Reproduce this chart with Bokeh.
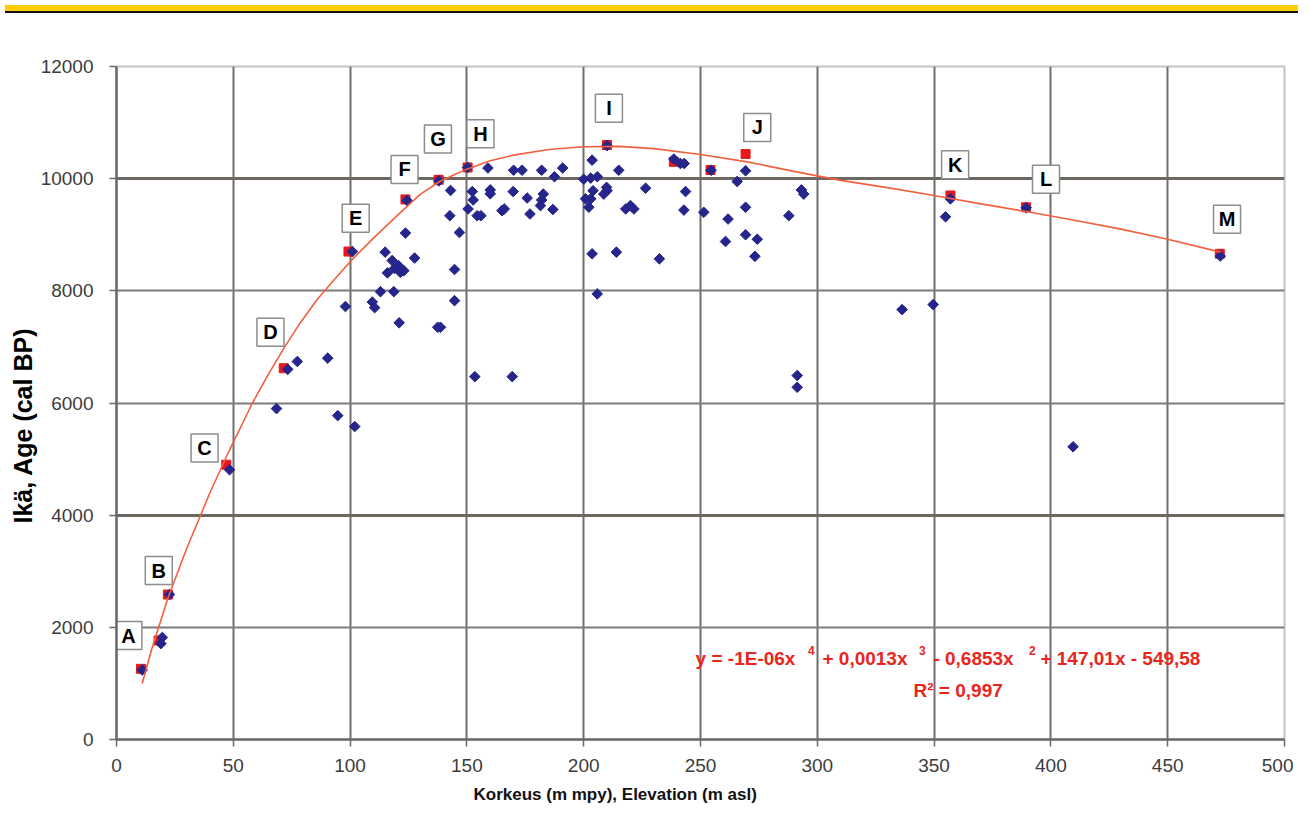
from bokeh.plotting import figure
from bokeh.models import (Range1d, FixedTicker, Grid, Label, Div, BasicTickFormatter,
                          ColumnDataSource, Title)
from bokeh.layouts import column
from bokeh.core.properties import value
from bokeh.embed import file_html
from bokeh.resources import INLINE

# ---------------- data ----------------
elev_blue = [11, 19.6, 19, 22.7, 48.4, 73.3, 77.4, 90.4, 68.5, 94.7, 102,
             98, 101, 109.5, 110.5, 113, 118.7, 121, 115, 118, 120.7, 116, 119, 121.5,
             123, 124.4, 123.7, 127.6, 137.5, 138.7, 138, 142.7, 143, 144.7, 144.7,
             146.8, 150.3, 150.5, 152.3, 152.7, 153.4, 154.4, 156, 159, 160, 160,
             165, 166, 169.4, 169.8, 170, 173.6, 175.8, 177, 181.5, 182, 182, 182.7,
             186.8, 187.5, 191, 200, 200.8, 202.2, 203, 203, 203.6, 203.6, 204,
             205.8, 205.8, 208.6, 210, 210, 209.8, 214, 215, 218, 220, 221.5, 226.5,
             232.4, 238.6, 241.4, 243, 243.6, 242.9, 251.4, 254.5, 260.7, 261.8,
             265.7, 269.3, 269.3, 269.3, 273.3, 274.3, 287.8, 291.4, 291.4, 293.2,
             294.2, 336.3, 349.6, 354.9, 357, 389.4, 409.5, 472.5]
age_blue = [1240, 1820, 1710, 2585, 4810, 6600, 6740, 6800, 5900, 5775, 5580,
            7720, 8700, 7800, 7700, 7985, 7985, 7430, 8690, 8540, 8450, 8320, 8400, 8330,
            8360, 9610, 9030, 8585, 7350, 7350, 9960, 9340, 9790, 8380, 7825,
            9040, 10200, 9460, 9770, 9620, 6470, 9340, 9340, 10190, 9800, 9730,
            9430, 9460, 6470, 9770, 10150, 10150, 9655, 9370, 9520, 9620, 10150, 9725,
            9450, 10035, 10190, 9990, 9640, 9490, 10010, 9640, 10330, 8660, 9785,
            10035, 7945, 9725, 10590, 9785, 9845, 8690, 10150, 9460, 9520, 9460, 9830,
            8570, 10350, 10270, 10270, 9770, 9440, 9400, 10150, 8880, 9280,
            9950, 10140, 9490, 9000, 8615, 8920, 9340, 6490, 6280, 9800,
            9725, 7665, 7755, 9320, 9640, 9480, 5220, 8620]

elev_red = [10.5, 18, 22, 47, 71.6, 99.3, 123.7, 137.9, 150.3, 210, 238.6, 254.3,
            269.3, 357, 389.4, 472.3]
age_red = [1260, 1765, 2585, 4900, 6620, 8700, 9630, 9980, 10200, 10600, 10300, 10155,
           10440, 9700, 9490, 8660]

# trend line (4th order polynomial fit as drawn in the picture)
curve_x = [11, 15, 22, 30, 40, 48, 58.2, 65, 72, 79, 86, 93, 100, 110, 121.6, 130,
           138, 145, 150, 160, 170, 185, 200, 215, 230, 250, 270, 290, 310, 330, 350,
           370, 390, 410, 430, 450, 472.6]
curve_y = [1000, 1600, 2520, 3400, 4400, 5130, 6000, 6510, 7000, 7450, 7850, 8190,
           8520, 8940, 9400, 9720, 9940, 10080, 10170, 10320, 10420, 10520, 10570,
           10575, 10535, 10430, 10300, 10130, 9970, 9840, 9700, 9550, 9410, 9260,
           9100, 8920, 8690]

label_letters = ["A", "B", "C", "D", "E", "F", "G", "H", "I", "J", "K", "L", "M"]
label_x = [5.1, 18.1, 37.7, 65.9, 102.4, 123.3, 137.6, 155.8, 210.8, 274.3, 359, 397.9, 475.4]
label_y = [1854, 3012, 5196, 7260, 9296, 10164, 10706, 10802, 11257, 10914, 10246, 9989, 9275]

x_ticks = [0, 50, 100, 150, 200, 250, 300, 350, 400, 450, 500]
y_ticks = [0, 2000, 4000, 6000, 8000, 10000, 12000]

x_title = "Korkeus (m mpy), Elevation (m asl)"
y_title = "Ikä,  Age (cal BP)"
eq_parts = ["y = -1E-06x", "4", "+ 0,0013x", "3", "- 0,6853x", "2", "+ 147,01x - 549,58"]
r2_text = "R² = 0,997"

# ---------------- styling ----------------
FONT_NAME = "Liberation Sans"
FONT = value(FONT_NAME)
BLUE = "#25258C"
RED = "#E5191C"
TREND = "#F2603F"
EQ_RED = "#E8261E"

band = Div(width=1293, height=8,
           styles={"background-color": "#FFCC00", "border-bottom": "2px solid #111111"})

p = figure(width=1293, height=794, x_range=Range1d(0, 500), y_range=Range1d(0, 12000),
           output_backend="svg", toolbar_location=None,
           min_border_left=116, min_border_right=9, min_border_top=48, min_border_bottom=73)
p.background_fill_color = "white"
p.border_fill_color = "white"
p.outline_line_color = "#c4c4c4"
p.outline_line_width = 2

# axes
for ax in (p.xaxis[0], p.yaxis[0]):
    ax.axis_line_color = "#6a6a6a"
    ax.axis_line_width = 2.5
    ax.major_tick_line_color = "#6a6a6a"
    ax.major_tick_line_width = 1.5
    ax.major_tick_in = 0
    ax.major_tick_out = 7
    ax.minor_tick_line_color = None
    ax.major_label_text_font = FONT_NAME
    ax.major_label_text_font_size = "19px"
    ax.major_label_text_color = "#3c3c3c"
p.xaxis.ticker = FixedTicker(ticks=x_ticks)
p.yaxis.ticker = FixedTicker(ticks=y_ticks)
p.yaxis.formatter = BasicTickFormatter(use_scientific=False)
p.xaxis.major_label_standoff = 12
p.yaxis.major_label_standoff = 16

# axis titles (as side titles so they can be placed off-centre like the original)
p.add_layout(Title(text=y_title, align="left", offset=216, vertical_align="middle",
                   standoff=0, text_font=FONT_NAME, text_font_style="bold",
                   text_font_size="25px", text_color="black"), "left")
p.add_layout(Title(text=x_title, align="left", offset=357, vertical_align="bottom",
                   standoff=17, text_font=FONT_NAME, text_font_style="bold",
                   text_font_size="17px", text_color="#111111"), "below")

# grids
p.xgrid.ticker = FixedTicker(ticks=x_ticks[1:-1])
p.xgrid.grid_line_color = "#6e6e6e"
p.xgrid.grid_line_width = 2
p.ygrid.ticker = FixedTicker(ticks=[2000, 6000, 8000])
p.ygrid.grid_line_color = "#7c7c7c"
p.ygrid.grid_line_width = 2
g2 = Grid(dimension=1, ticker=FixedTicker(ticks=[4000, 10000]),
          grid_line_color="#6d6762", grid_line_width=3)
p.add_layout(g2)

# markers
p.scatter(elev_red, age_red, marker="square", size=9, fill_color=RED, line_color=RED)
p.scatter(elev_blue, age_blue, marker="square", angle=0.785398, size=7.5,
          fill_color=BLUE, line_color=BLUE)

# trend line
p.line(curve_x, curve_y, line_color=TREND, line_width=1.6)

# letter boxes
lsrc = ColumnDataSource(dict(x=label_x, y=label_y, t=label_letters))
p.rect("x", "y", width=27, height=28, width_units="screen", height_units="screen",
       fill_color="white", line_color="#8c8c8c", line_width=1.5, source=lsrc)
p.text("x", "y", text="t", text_align="center", text_baseline="middle",
       text_font=FONT, text_font_style="bold", text_font_size="20px",
       text_color="black", source=lsrc)

# equation
eq_x = [247.9, 296.0, 302.2, 343.5, 349.7, 390.6, 395.5]
eq_y = [1444, 1590, 1444, 1590, 1444, 1590, 1444]
eq_size = ["19px", "12px", "19px", "12px", "19px", "12px", "19px"]
for t, xx, yy, fs in zip(eq_parts, eq_x, eq_y, eq_size):
    p.add_layout(Label(x=xx, y=yy, text=t, text_font=FONT_NAME, text_font_style="bold",
                       text_font_size=fs, text_color=EQ_RED, text_align="left",
                       text_baseline="middle"))
p.add_layout(Label(x=341.2, y=873, text=r2_text, text_font=FONT_NAME, text_font_style="bold",
                   text_font_size="19px", text_color=EQ_RED, text_align="left",
                   text_baseline="middle"))

layout = column(band, p, spacing=0)
open("out.html", "w").write(file_html(layout, INLINE))
